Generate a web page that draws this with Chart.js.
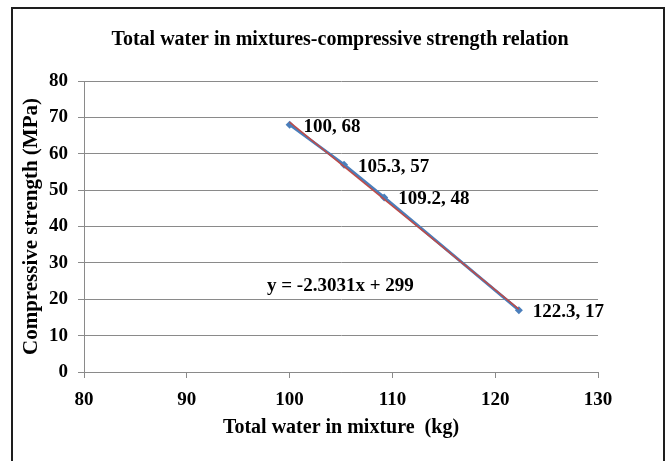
<!DOCTYPE html>
<html>
<head>
<meta charset="utf-8">
<script src="https://cdn.jsdelivr.net/npm/chart.js@4"></script>
<style>
  html, body { margin: 0; padding: 0; background: #fff; overflow: hidden; }
  .frame { position: absolute; left: 11px; top: 7px; width: 650px; height: 470px; border: 2px solid #1e1e1e; }
  #chart { position: absolute; left: 0; top: 0; }
</style>
</head>
<body>
<div class="frame"></div>
<canvas id="chart" width="667" height="461"></canvas>
<script>
// values
const waterKg = [100, 105.3, 109.2, 122.3];
const strengthMPa = [68, 57, 48, 17];
// linear trendline y = -2.3031x + 299, end points
const trendX = [100, 122.3];
const trendY = [68.7, 17.3];
const xTicks = [80, 90, 100, 110, 120, 130];
const yTicks = [0, 10, 20, 30, 40, 50, 60, 70, 80];
const equationText = 'y = -2.3031x + 299';

const FONT = '"Liberation Serif", "Times New Roman", serif';
const GRID = '#8a8a8a';

// point labels "x, y" and the trendline equation
const labelsPlugin = {
    id: 'pointLabels',
    afterDatasetsDraw(chart) {
        const ctx = chart.ctx;
        const meta = chart.getDatasetMeta(0);
        ctx.save();
        ctx.font = 'bold 19px ' + FONT;
        ctx.fillStyle = '#000';
        ctx.textAlign = 'left';
        ctx.textBaseline = 'middle';
        meta.data.forEach((pt, i) => {
            ctx.fillText(waterKg[i] + ', ' + strengthMPa[i], pt.x + 14, pt.y + 2);
        });
        const sx = chart.scales.x, sy = chart.scales.y;
        ctx.fillText(equationText, sx.getPixelForValue(97.8), sy.getPixelForValue(23.7));
        ctx.restore();
    }
};

const ctx = document.getElementById('chart').getContext('2d');
let myChart = new Chart(ctx, {
    type: 'scatter',
    data: {
        datasets: [{
            data: waterKg.map((x, i) => ({ x: x, y: strengthMPa[i] })),
            showLine: true,
            borderColor: '#4a7ebb',
            borderWidth: 3,
            backgroundColor: '#4a7ebb',
            pointStyle: 'rectRot',
            pointRadius: 4,
            pointBorderWidth: 0,
            order: 2
        }, {
            data: trendX.map((x, i) => ({ x: x, y: trendY[i] })),
            showLine: true,
            borderColor: '#be4b48',
            borderWidth: 1.5,
            pointRadius: 0,
            order: 1
        }]
    },
    options: {
        responsive: false,
        animation: false,
        layout: {
            padding: { left: 13, right: 0, top: 0, bottom: 0 }
        },
        plugins: {
            legend: { display: false },
            tooltip: { enabled: false },
            title: {
                display: true,
                text: 'Total water in mixtures-compressive strength relation',
                color: '#000',
                font: { family: FONT, size: 20, weight: 'bold' },
                padding: { top: 28, bottom: 29 }
            }
        },
        scales: {
            x: {
                type: 'linear',
                min: xTicks[0],
                max: xTicks[xTicks.length - 1],
                afterBuildTicks: s => { s.ticks = xTicks.map(v => ({ value: v })); },
                afterFit: s => { s.height = 89; },
                ticks: {
                    color: '#000',
                    padding: 11,
                    font: { family: FONT, size: 19, weight: 'bold' }
                },
                grid: { drawOnChartArea: false, color: GRID, tickLength: 6 },
                border: { color: GRID },
                title: {
                    display: true,
                    text: 'Total water in mixture  (kg)',
                    color: '#000',
                    font: { family: FONT, size: 20, weight: 'bold' },
                    padding: { top: 0, bottom: 21 }
                }
            },
            y: {
                min: yTicks[0],
                max: yTicks[yTicks.length - 1],
                afterBuildTicks: s => { s.ticks = yTicks.map(v => ({ value: v })); },
                afterFit: s => { s.width = 71; },
                ticks: {
                    color: '#000',
                    padding: 10,
                    font: { family: FONT, size: 19, weight: 'bold' }
                },
                grid: { color: GRID, tickLength: 6 },
                border: { color: GRID },
                title: {
                    display: true,
                    text: 'Compressive strength (MPa)',
                    color: '#000',
                    font: { family: FONT, size: 21, weight: 'bold' },
                    padding: { top: 6, bottom: 0 }
                }
            },
            // empty space to the right of the plot
            yRight: {
                position: 'right',
                afterFit: s => { s.width = 69; },
                ticks: { display: false },
                grid: { display: false },
                border: { display: false }
            }
        }
    },
    plugins: [labelsPlugin]
});
</script>
</body>
</html>
